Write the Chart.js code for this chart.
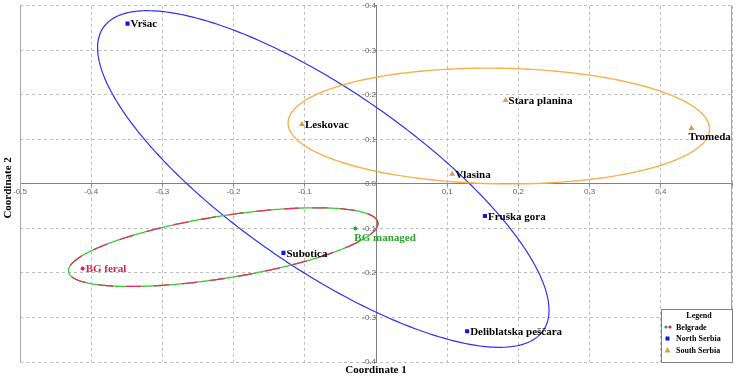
<!DOCTYPE html>
<html><head><meta charset="utf-8">
<script src="https://cdn.jsdelivr.net/npm/chart.js@4.4.0/dist/chart.umd.min.js"></script>
<style>html,body{margin:0;padding:0;background:#fff;}#wrap{width:736px;height:377px;position:relative;}</style>
</head><body><div id="wrap"><canvas id="c" width="736" height="377"></canvas></div>
<script>
// ---- data ----
const northNames = ['Vršac', 'Subotica', 'Fruška gora', 'Deliblatska peščara'];
const northX = [-0.349, -0.130, 0.153, 0.128];
const northY = [0.360, -0.155, -0.072, -0.331];

const southNames = ['Leskovac', 'Stara planina', 'Vlasina', 'Tromeda'];
const southX = [-0.104, 0.182, 0.107, 0.443];
const southY = [0.134, 0.188, 0.022, 0.125];

const bgManagedNames = ['BG managed'];
const bgManagedX = [-0.029];
const bgManagedY = [-0.100];

const bgFeralNames = ['BG feral'];
const bgFeralX = [-0.412];
const bgFeralY = [-0.190];

const xTickValues = [-0.5, -0.4, -0.3, -0.2, -0.1, 0.0, 0.1, 0.2, 0.3, 0.4, 0.5];
const yTickValues = [-0.4, -0.3, -0.2, -0.1, 0.0, 0.1, 0.2, 0.3, 0.4];

// confidence ellipses: centre and (co)variance terms, in data units
const ellipseGroups = ['North Serbia', 'South Serbia', 'Belgrade'];
const ellipseCX = [-0.074, 0.1725, -0.2146];
const ellipseCY = [0.011, 0.130, -0.142];
const ellipseSXX = [0.1005, 0.0876, 0.04726];
const ellipseSYY = [0.1429, 0.0169, 0.00781];
const ellipseSXY = [-0.0934, -0.0020, 0.01153];

const legendTitle = 'Legend';
const legendItems = ['Belgrade', 'North Serbia', 'South Serbia'];
const axisTitleX = 'Coordinate 1';
const axisTitleY = 'Coordinate 2';

// ---- styles ----
const C_BLUE = '#1414e6', C_BLUE_LINE = '#3030f0';
const C_ORANGE = '#d99e4e', C_ORANGE_LINE = '#f5b24c';
const C_GREEN = '#2aa52a', C_GREEN_LINE = '#35cc35';
const C_RED = '#dc1f4e', C_RED_LINE = '#ea3062';
const SERIF = '"Liberation Serif", "Times New Roman", serif';

const toPts = (xs, ys) => xs.map((x, i) => ({x: x, y: ys[i]}));

const labelSets = [
  {names: northNames, place: ['right', 'right', 'right', 'right'], color: '#000'},
  {names: southNames, place: ['right', 'right', 'right', 'below'], color: '#000'},
  {names: bgManagedNames, place: ['belowR'], color: C_GREEN},
  {names: bgFeralNames, place: ['right'], color: C_RED}
];

const ellipsePlugin = {
  id: 'ellipses',
  beforeDatasetsDraw(chart) {
    const {ctx, scales: {x, y}, chartArea} = chart;
    ctx.save();
    ctx.beginPath();
    ctx.rect(chartArea.left, chartArea.top, chartArea.right - chartArea.left, chartArea.bottom - chartArea.top);
    ctx.clip();
    ellipseGroups.forEach((g, i) => {
      const a = Math.sqrt(ellipseSXX[i]);
      const c = ellipseSXY[i] / a;
      const d = Math.sqrt(ellipseSYY[i] - c * c);
      const path = () => {
        ctx.beginPath();
        const n = 360;
        for (let k = 0; k <= n; k++) {
          const t = k / n * Math.PI * 2;
          const vx = ellipseCX[i] + a * Math.cos(t);
          const vy = ellipseCY[i] + c * Math.cos(t) + d * Math.sin(t);
          const px = x.getPixelForValue(vx), py = y.getPixelForValue(vy);
          if (k === 0) ctx.moveTo(px, py); else ctx.lineTo(px, py);
        }
      };
      if (g === 'Belgrade') {
        ctx.lineWidth = 1.3;
        ctx.setLineDash([]);
        ctx.strokeStyle = C_GREEN_LINE; path(); ctx.stroke();
        ctx.setLineDash([15, 13]);
        ctx.strokeStyle = C_RED_LINE; path(); ctx.stroke();
        ctx.setLineDash([]);
      } else {
        ctx.lineWidth = g === 'North Serbia' ? 1.2 : 1.4;
        ctx.strokeStyle = g === 'North Serbia' ? C_BLUE_LINE : C_ORANGE_LINE;
        path(); ctx.stroke();
      }
    });
    ctx.restore();
  }
};

const framePlugin = {
  id: 'frame',
  beforeDatasetsDraw(chart) {
    const {ctx, chartArea} = chart;
    ctx.save();
    ctx.strokeStyle = '#a8a8a8';
    ctx.lineWidth = 1;
    ctx.beginPath();
    ctx.moveTo(Math.round(chartArea.left) + 0.5, chartArea.top);
    ctx.lineTo(Math.round(chartArea.left) + 0.5, chartArea.bottom);
    ctx.moveTo(Math.round(chartArea.right) - 0.5, chartArea.top);
    ctx.lineTo(Math.round(chartArea.right) - 0.5, chartArea.bottom);
    ctx.stroke();
    ctx.restore();
  }
};

const labelPlugin = {
  id: 'pointLabels',
  afterDatasetsDraw(chart) {
    const {ctx} = chart;
    ctx.save();
    ctx.font = 'bold 11px ' + SERIF;
    labelSets.forEach((set, di) => {
      const meta = chart.getDatasetMeta(di);
      meta.data.forEach((el, i) => {
        ctx.fillStyle = set.color;
        const p = set.place[i];
        if (p === 'right') {
          ctx.textAlign = 'left'; ctx.textBaseline = 'middle';
          ctx.fillText(set.names[i], el.x + 3, el.y + 1);
        } else if (p === 'below') {
          ctx.textAlign = 'left'; ctx.textBaseline = 'top';
          ctx.fillText(set.names[i], el.x - 3, el.y + 3);
        } else {
          ctx.textAlign = 'left'; ctx.textBaseline = 'top';
          ctx.fillText(set.names[i], el.x - 1, el.y + 4);
        }
      });
    });
    ctx.restore();
  }
};

const decorPlugin = {
  id: 'decor',
  afterDraw(chart) {
    const {ctx, chartArea} = chart;
    ctx.save();
    // axis titles
    ctx.fillStyle = '#000';
    ctx.font = 'bold 11px ' + SERIF;
    ctx.textAlign = 'center'; ctx.textBaseline = 'middle';
    ctx.fillText(axisTitleX, (chartArea.left + chartArea.right) / 2, 370);
    ctx.save();
    ctx.translate(8, (chartArea.top + chartArea.bottom) / 2 + 4);
    ctx.rotate(-Math.PI / 2);
    ctx.fillText(axisTitleY, 0, 0);
    ctx.restore();
    // legend box
    const lx = 661.5, ly = 309.5, lw = 71, lh = 53;
    ctx.fillStyle = '#fff';
    ctx.fillRect(lx, ly, lw, lh);
    ctx.strokeStyle = '#808080'; ctx.lineWidth = 1;
    ctx.strokeRect(lx, ly, lw, lh);
    ctx.fillStyle = '#000';
    ctx.font = 'bold 8px ' + SERIF;
    ctx.textAlign = 'center'; ctx.textBaseline = 'middle';
    ctx.fillText(legendTitle, lx + lw / 2 + 2, ly + 6.5);
    ctx.textAlign = 'left';
    const rows = [327, 338.5, 350];
    legendItems.forEach((name, i) => {
      const ry = rows[i];
      if (name === 'Belgrade') {
        ctx.fillStyle = C_GREEN; ctx.beginPath(); ctx.arc(666, ry, 1.6, 0, Math.PI * 2); ctx.fill();
        ctx.fillStyle = C_RED; ctx.beginPath(); ctx.arc(670, ry, 1.6, 0, Math.PI * 2); ctx.fill();
      } else if (name === 'North Serbia') {
        ctx.fillStyle = C_BLUE; ctx.fillRect(665.5, ry - 2, 4, 4);
      } else {
        ctx.fillStyle = C_ORANGE; ctx.beginPath();
        ctx.moveTo(667.5, ry - 3); ctx.lineTo(670.5, ry + 2.5); ctx.lineTo(664.5, ry + 2.5); ctx.closePath(); ctx.fill();
      }
      ctx.fillStyle = '#000';
      ctx.fillText(name, 676, ry + 0.5);
    });
    ctx.restore();
  }
};

const fmt = v => (Math.abs(v) < 1e-9 ? 0 : v).toFixed(1);

new Chart(document.getElementById('c'), {
  type: 'scatter',
  data: {
    datasets: [
      {label: 'North Serbia', data: toPts(northX, northY), pointStyle: 'rect', pointRadius: 2.9, backgroundColor: C_BLUE, borderWidth: 0},
      {label: 'South Serbia', data: toPts(southX, southY), pointStyle: 'triangle', pointRadius: 3.4, backgroundColor: C_ORANGE, borderWidth: 0},
      {label: 'BG managed', data: toPts(bgManagedX, bgManagedY), pointStyle: 'circle', pointRadius: 2, backgroundColor: C_GREEN, borderWidth: 0},
      {label: 'BG feral', data: toPts(bgFeralX, bgFeralY), pointStyle: 'circle', pointRadius: 2, backgroundColor: C_RED, borderWidth: 0}
    ]
  },
  options: {
    responsive: false,
    animation: false,
    devicePixelRatio: 1,
    layout: {padding: {left: 20, right: 3, top: 4, bottom: 15}},
    plugins: {legend: {display: false}, tooltip: {enabled: false}},
    scales: {
      x: {
        type: 'linear', min: -0.5, max: 0.5,
        position: {y: 0},
        afterBuildTicks: s => { s.ticks = xTickValues.map(v => ({value: v})); },
        ticks: {
          callback: v => (Math.abs(v) < 1e-9 || v > 0.45) ? '' : fmt(v),
          font: {family: '"Liberation Sans", Arial, sans-serif', size: 8},
          color: '#666', padding: 1, maxRotation: 0, autoSkip: false
        },
        grid: {color: '#bcbcbc', lineWidth: 1, tickLength: 2, tickColor: '#888'},
        border: {display: true, color: '#808080', width: 1, dash: [3, 3]}
      },
      y: {
        type: 'linear', min: -0.4, max: 0.4,
        position: {x: 0},
        afterBuildTicks: s => { s.ticks = yTickValues.map(v => ({value: v})); },
        ticks: {
          callback: v => fmt(v),
          font: {family: '"Liberation Sans", Arial, sans-serif', size: 8},
          color: '#666', padding: 1, autoSkip: false
        },
        grid: {color: '#bcbcbc', lineWidth: 1, tickLength: 2, tickColor: '#888'},
        border: {display: true, color: '#808080', width: 1, dash: [3, 3]}
      }
    }
  },
  plugins: [framePlugin, ellipsePlugin, labelPlugin, decorPlugin]
});
</script>
</body></html>
